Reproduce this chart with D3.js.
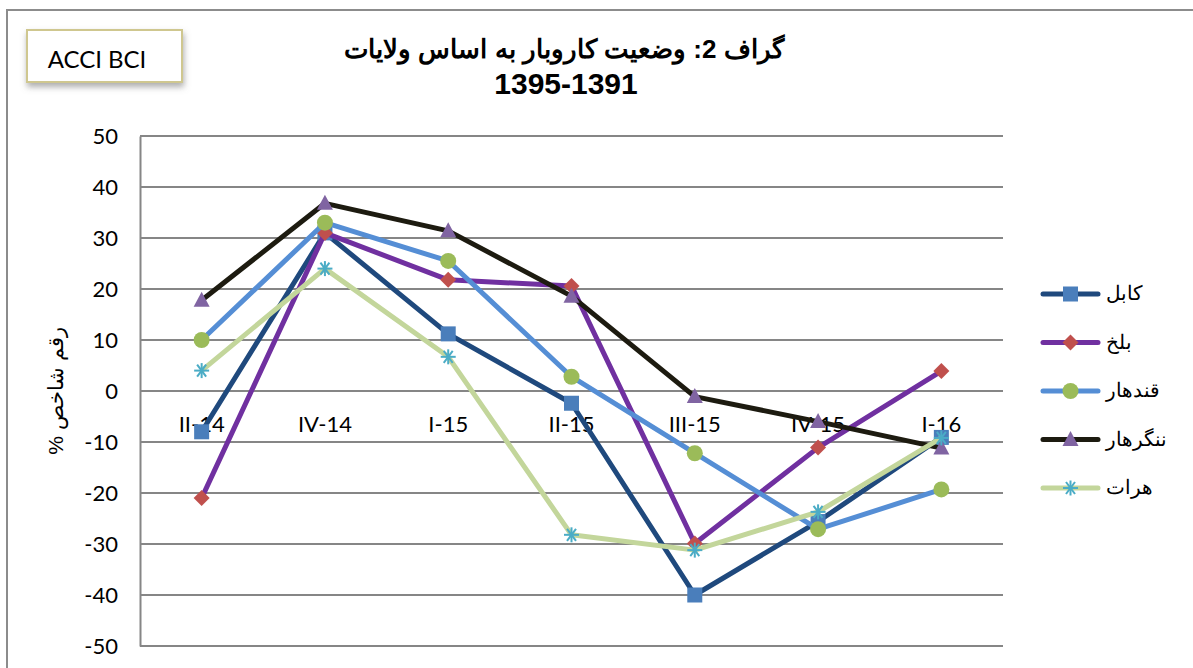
<!DOCTYPE html>
<html>
<head>
<meta charset="utf-8">
<script src="https://cdn.jsdelivr.net/npm/d3@7"></script>
<style>
  html, body { margin: 0; padding: 0; background: #fff; }
  svg { display: block; }
</style>
</head>
<body>
<div id="chart"></div>
<script>
// --- data ---
const categories = ["II-14", "IV-14", "I-15", "II-15", "III-15", "IV-15", "I-16"];
const kabul     = [-8, 31, 11.2, -2.4, -40, -25.6, -9.1];
const balkh     = [-21, 31, 21.8, 20.6, -29.9, -11.1, 3.9];
const kandahar  = [10, 33, 25.5, 2.8, -12.2, -27.1, -19.3];
const nangarhar = [17.8, 36.8, 31.4, 18.6, -1.1, -6, -11.2];
const herat     = [4, 24, 6.7, -28.2, -31.2, -23.7, -9.2];
const seriesNames = ["کابل", "بلخ", "قندهار", "ننگرهار", "هرات"];
const yTicks = [50, 40, 30, 20, 10, 0, -10, -20, -30, -40, -50];

const series = [
  { name: seriesNames[0], values: kabul,     line: "#1F497D", fill: "#4A7EBB", marker: "square" },
  { name: seriesNames[1], values: balkh,     line: "#7030A0", fill: "#C0504D", marker: "diamond" },
  { name: seriesNames[2], values: kandahar,  line: "#558ED5", fill: "#9BBB59", marker: "circle" },
  { name: seriesNames[3], values: nangarhar, line: "#1D1B10", fill: "#8064A2", marker: "triangle" },
  { name: seriesNames[4], values: herat,     line: "#C3D69B", fill: "#4BACC6", marker: "star" }
];

const W = 1193, H = 668;
const plot = { left: 140, right: 1003, top: 136, bottom: 646 };

const svg = d3.select("#chart").append("svg")
  .attr("width", W).attr("height", H);

// outer frame (only top + left visible in the crop)
svg.append("path")
  .attr("d", `M7,${H} L7,10 L${W},10`)
  .attr("fill", "none").attr("stroke", "#8c8c8c").attr("stroke-width", 2);

// ACCI BCI box
const defs = svg.append("defs");
const f = defs.append("filter").attr("id", "shadow").attr("x", "-10%").attr("y", "-20%").attr("width", "130%").attr("height", "160%");
f.append("feDropShadow").attr("dx", 1).attr("dy", 4).attr("stdDeviation", 3).attr("flood-color", "#777").attr("flood-opacity", 0.6);

svg.append("rect")
  .attr("x", 27).attr("y", 30).attr("width", 155).attr("height", 52)
  .attr("fill", "#fff").attr("stroke", "#cfc78f").attr("stroke-width", 2)
  .attr("filter", "url(#shadow)");
svg.append("text")
  .attr("x", 97).attr("y", 68).attr("text-anchor", "middle")
  .attr("font-family", "Lato, Carlito, sans-serif").attr("font-size", 24)
  .attr("fill", "#000").text("ACCI BCI");

// title
svg.append("text")
  .attr("x", 564).attr("y", 58).attr("text-anchor", "middle")
  .attr("direction", "rtl")
  .attr("font-family", "'Liberation Sans', Arial, sans-serif").attr("font-weight", "bold")
  .attr("font-size", 26).attr("fill", "#000")
  .text("گراف 2: وضعیت کاروبار به اساس ولایات");
svg.append("text")
  .attr("x", 566).attr("y", 94).attr("text-anchor", "middle")
  .attr("font-family", "'Liberation Sans', Arial, sans-serif").attr("font-weight", "bold")
  .attr("font-size", 30).attr("fill", "#000")
  .text("1395-1391");

// scales
const x = d3.scaleBand().domain(categories).range([plot.left, plot.right]);
const y = d3.scaleLinear().domain([-50, 50]).range([plot.bottom, plot.top]);

// gridlines
svg.append("g")
  .selectAll("line").data(yTicks).join("line")
  .attr("x1", plot.left).attr("x2", plot.right)
  .attr("y1", d => y(d)).attr("y2", d => y(d))
  .attr("stroke", "#868686").attr("stroke-width", 2);

// y axis
const yAxis = svg.append("g")
  .attr("transform", `translate(${plot.left},0)`)
  .call(d3.axisLeft(y).tickValues(yTicks).tickSize(0).tickPadding(22).tickFormat(d => String(d)));
yAxis.select(".domain").attr("stroke", "#868686").attr("stroke-width", 2);
yAxis.selectAll("text")
  .attr("font-family", "Lato, Carlito, sans-serif").attr("font-size", 22).attr("fill", "#000");

// x axis crosses at 0, labels below
const xAxis = svg.append("g")
  .attr("transform", `translate(0,${y(0)})`)
  .call(d3.axisBottom(x).tickSize(0).tickPadding(25));
xAxis.select(".domain").remove();
xAxis.selectAll("text")
  .attr("font-family", "Lato, Carlito, sans-serif").attr("font-size", 22).attr("fill", "#000");

// y axis title
svg.append("text")
  .attr("transform", `translate(63,${y(0)}) rotate(-90)`)
  .attr("text-anchor", "middle").attr("direction", "rtl")
  .attr("font-family", "'Liberation Sans', Arial, sans-serif").attr("font-size", 21).attr("fill", "#000")
  .text("رقم شاخص %");

// marker helper
function drawMarker(g, type, cx, cy, fill) {
  if (type === "square") {
    g.append("rect").attr("x", cx - 7.5).attr("y", cy - 7.5).attr("width", 15).attr("height", 15).attr("fill", fill);
  } else if (type === "diamond") {
    g.append("path").attr("d", `M${cx},${cy - 8}L${cx + 8},${cy}L${cx},${cy + 8}L${cx - 8},${cy}Z`).attr("fill", fill);
  } else if (type === "circle") {
    g.append("circle").attr("cx", cx).attr("cy", cy).attr("r", 8).attr("fill", fill);
  } else if (type === "triangle") {
    g.append("path").attr("d", `M${cx},${cy - 8.5}L${cx + 8},${cy + 6.5}L${cx - 8},${cy + 6.5}Z`).attr("fill", fill);
  } else if (type === "star") {
    const r = 7.5;
    const p = [[-r, 0, r, 0], [-r * 0.6, -r * 0.8, r * 0.6, r * 0.8], [-r * 0.6, r * 0.8, r * 0.6, -r * 0.8], [0, -r, 0, r]];
    p.forEach(s => g.append("line")
      .attr("x1", cx + s[0]).attr("y1", cy + s[1]).attr("x2", cx + s[2]).attr("y2", cy + s[3])
      .attr("stroke", fill).attr("stroke-width", 2));
  }
}

const line = d3.line()
  .x((d, i) => x(categories[i]) + x.bandwidth() / 2)
  .y(d => y(d));

series.forEach(s => {
  const g = svg.append("g");
  g.append("path").datum(s.values)
    .attr("d", line).attr("fill", "none")
    .attr("stroke", s.line).attr("stroke-width", 5).attr("stroke-linejoin", "round");
  s.values.forEach((v, i) => drawMarker(g, s.marker, x(categories[i]) + x.bandwidth() / 2, y(v), s.fill));
});

// legend
const legendY = d3.scalePoint().domain(seriesNames).range([294, 488]);
series.forEach(s => {
  const g = svg.append("g");
  const ly = legendY(s.name);
  g.append("line").attr("x1", 1043).attr("x2", 1098).attr("y1", ly).attr("y2", ly)
    .attr("stroke", s.line).attr("stroke-width", 5).attr("stroke-linecap", "round");
  drawMarker(g, s.marker, 1070.5, ly, s.fill);
  g.append("text").attr("x", 1106).attr("y", ly + 6)
    .attr("text-anchor", "end").attr("direction", "rtl")
    .attr("font-family", "'Liberation Sans', Arial, sans-serif").attr("font-size", 20).attr("fill", "#000")
    .text(s.name);
});
</script>
</body>
</html>
